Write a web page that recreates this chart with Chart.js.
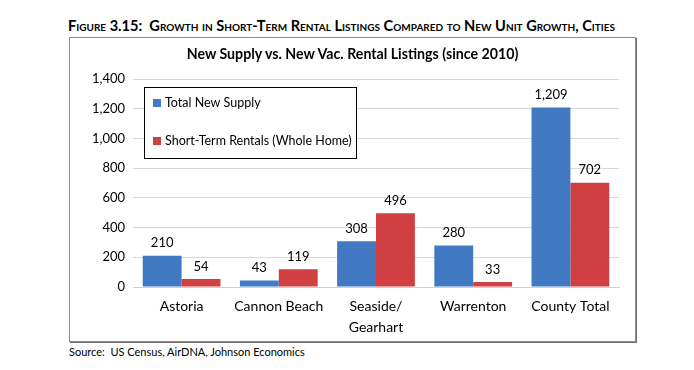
<!DOCTYPE html>
<html>
<head>
<meta charset="utf-8">
<script src="https://cdn.jsdelivr.net/npm/chart.js@4.4.0/dist/chart.umd.min.js"></script>
<style>
  body { margin: 0; background: #fff; width: 694px; height: 370px; position: relative; font-family: Lato, "Open Sans", sans-serif; }
  #figTitle { position: absolute; left: 68px; top: 17px; font-size: 14.6px; font-weight: bold; font-variant: small-caps; color: #000; white-space: nowrap; }
  #caja { position: absolute; left: 69px; top: 37px; width: 565px; height: 303px; border: 1px solid #8c8c8c; box-shadow: 1px 1px 0 #6e6e6e; }
  #tituloGrafica { position: absolute; left: 0; right: 0; top: 7px; text-align: center; font-size: 14.2px; font-weight: bold; color: #000; }
  #grafica { position: absolute; left: 0; top: 0; }
  #fuente { position: absolute; left: 69px; top: 345px; font-size: 11px; color: #000; }
</style>
</head>
<body>
<div id="figTitle">Figure 3.15:&nbsp; Growth in Short-Term Rental Listings Compared to New Unit Growth, Cities</div>
<div id="caja">
  <canvas id="grafica" width="565" height="303"></canvas>
  <div id="tituloGrafica">New Supply vs. New Vac. Rental Listings (since 2010)</div>
</div>
<div id="fuente">Source:&nbsp; US Census, AirDNA, Johnson Economics</div>
<script>
const categorias = ['Astoria', 'Cannon Beach', ['Seaside/', 'Gearhart'], 'Warrenton', 'County Total'];
const nombresSeries = ['Total New Supply', 'Short-Term Rentals (Whole Home)'];
const nuevaOferta = [210, 43, 308, 280, 1209];
const rentasCorto = [54, 119, 496, 33, 702];
const ticksY = [0, 200, 400, 600, 800, 1000, 1200, 1400];

const AZUL = '#4279c3';
const ROJO = '#d04043';
const FUENTE = 'Lato, "Open Sans", sans-serif';

const etiquetasValores = {
    id: 'etiquetasValores',
    afterDatasetsDraw(chart) {
        const ctx = chart.ctx;
        ctx.save();
        ctx.font = '13px ' + FUENTE;
        ctx.fillStyle = '#000';
        ctx.textAlign = 'center';
        ctx.textBaseline = 'bottom';
        chart.data.datasets.forEach((ds, i) => {
            chart.getDatasetMeta(i).data.forEach((barra, j) => {
                ctx.fillText(ds.data[j].toLocaleString('en-US'), barra.x, barra.y - 6);
            });
        });
        ctx.restore();
    }
};

// leyenda en caja dentro del área de la gráfica, como en el original
const leyendaCaja = {
    id: 'leyendaCaja',
    afterDraw(chart) {
        const ctx = chart.ctx;
        const area = chart.chartArea;
        const x = area.left + 11, y = area.top + 8, w = 212, h = 71;
        ctx.save();
        ctx.fillStyle = '#fff';
        ctx.fillRect(x, y, w, h);
        ctx.strokeStyle = '#000';
        ctx.lineWidth = 1;
        ctx.strokeRect(x + 0.5, y + 0.5, w, h);
        ctx.font = '12.5px ' + FUENTE;
        ctx.textBaseline = 'middle';
        chart.data.datasets.forEach((ds, i) => {
            const cy = y + 16 + i * 38;
            ctx.fillStyle = ds.backgroundColor;
            ctx.fillRect(x + 9, cy - 4, 8, 8);
            ctx.fillStyle = '#000';
            ctx.fillText(ds.label, x + 21, cy);
        });
        ctx.restore();
    }
};

new Chart(document.getElementById('grafica'), {
    type: 'bar',
    data: {
        labels: categorias,
        datasets: [
            { label: nombresSeries[0], data: nuevaOferta, backgroundColor: AZUL, borderWidth: 0 },
            { label: nombresSeries[1], data: rentasCorto, backgroundColor: ROJO, borderWidth: 0 }
        ]
    },
    options: {
        responsive: false,
        animation: false,
        categoryPercentage: 0.8,
        barPercentage: 1,
        layout: { padding: { left: 0, right: 16, top: 41, bottom: 0 } },
        plugins: {
            legend: { display: false },
            tooltip: { enabled: false }
        },
        scales: {
            x: {
                afterFit(scale) { scale.height = 54; },
                grid: { display: false },
                border: { color: '#d0d0d0' },
                ticks: { color: '#000', font: { family: FUENTE, size: 14, lineHeight: 1.5 }, padding: 1, maxRotation: 0 }
            },
            y: {
                min: 0,
                max: 1400,
                afterFit(scale) { scale.width = 63; },
                afterBuildTicks(scale) { scale.ticks = ticksY.map(v => ({ value: v })); },
                grid: { color: '#d9d9d9', drawTicks: false },
                border: { display: false },
                ticks: {
                    color: '#000',
                    padding: 8,
                    font: { family: FUENTE, size: 13 },
                    callback: v => v.toLocaleString('en-US')
                }
            }
        }
    },
    plugins: [etiquetasValores, leyendaCaja]
});
</script>
</body>
</html>
